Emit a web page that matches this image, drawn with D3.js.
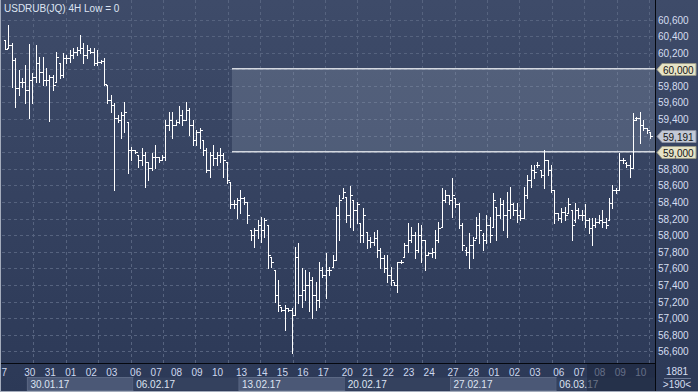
<!DOCTYPE html>
<html><head><meta charset="utf-8">
<script src="https://cdn.jsdelivr.net/npm/d3@7"></script>
<style>html,body{margin:0;padding:0;background:#2f3c5a;overflow:hidden}svg{display:block}</style>
</head><body><svg id="c" width="698" height="392"></svg>
<script>
const title = "USDRUB(JQ) 4H Low = 0";
// [open, high, low, close]
const bars = [
[60350,60350,60250,60250],[60260,60530,60260,60290],[60290,60320,59790,60110],[60110,60140,59550,59780],[59780,59990,59690,59850],
[59850,59900,59790,59850],[59850,60050,59590,59750],[59750,60300,59410,59870],[59870,59960,59590,59910],[59910,60290,59850,60080],
[60080,60150,59850,59970],[59970,60150,59810,59870],[59870,60020,59810,59870],[59870,59930,59380,59910],[59910,59930,59750,59810],
[59850,60210,59850,60150],[60080,60080,59900,59930],[59930,60200,59910,60140],[60140,60170,60080,60140],[60140,60230,60090,60170],
[60170,60260,60140,60210],[60210,60270,60170,60230],[60230,60410,60200,60260],[60260,60320,60080,60170],[60170,60290,60140,60230],
[60230,60260,60200,60210],[60210,60260,60050,60080],[60080,60230,60050,60090],[60090,60110,60080,60100],[60100,60140,59810,59820],
[59810,59810,59590,59630],[59630,59690,59490,59570],[59570,59590,58550,59410],[59410,59450,59370,59390],[59390,59490,59170,59450],
[59450,59610,59240,59490],[59370,59370,58750,59030],[59030,59060,58910,59030],[59030,59030,58990,59000],[58970,58970,58820,58910],
[58910,59050,58850,58970],[58970,59000,58580,58880],[58880,58880,58670,58810],[58810,58990,58790,58940],[58940,59090,58810,58940],
[58940,58940,58880,58910],[58910,58970,58910,58940],[58940,59390,58910,59330],
[59330,59490,59270,59390],[59390,59490,59170,59330],[59330,59390,59330,59370],[59370,59560,59350,59450],[59450,59510,59330,59390],
[59390,59610,59390,59510],[59510,59530,59210,59330],[59330,59390,59090,59150],[59150,59270,59090,59240],[59240,59290,59050,59270],
[59150,59150,58970,59030],[59030,59050,58760,58790],[58790,59000,58700,58970],[58970,59090,58850,58930],[58930,59000,58850,58970],
[58970,59050,58880,58970],[58970,58990,58700,58910],[58880,58880,58630,58670],[58640,58640,58330,58370],[58370,58430,58330,58370],
[58370,58450,58210,58430],[58430,58550,58270,58450],[58450,58460,58370,58400],[58400,58400,58150,58240],[58060,58060,57940,58000],
[58000,58090,57860,58060],[58060,58180,57970,58120],[58120,58220,57920,58060],[58060,58210,57980,58180],[58120,58120,57610,57760],
[57740,57740,57620,57680],[57580,57580,57200,57280],[57280,57460,57080,57160],[57140,57140,57080,57100],[57100,57160,56860,57120],
[57120,57120,57080,57100],[57100,57120,56580,57040],[57040,57860,57040,57740],[57740,57910,57180,57280],[57280,57610,57140,57340],
[57340,57580,57220,57400],[57400,57550,57080,57460],[57460,57490,57000,57280],[57280,57430,57100,57220],[57220,57680,57140,57580],
[57580,57620,57490,57520],[57520,57790,57240,57580],[57580,57620,57520,57580],
[57620,57760,57620,57700],[57700,58340,57700,58240],[58240,58490,57940,58430],[58450,58570,58450,58520],[58460,58460,58160,58240],
[58240,58590,58100,58490],[58430,58430,58060,58300],[58300,58400,58150,58370],[58150,58150,57920,58000],[58000,58330,57920,58240],
[58040,58040,57850,57940],[57940,57980,57860,57920],[57920,58040,57880,57970],[57970,58060,57740,57820],[57820,57850,57610,57730],
[57730,57760,57560,57610],[57610,57760,57430,57520],[57520,57620,57400,57460],[57430,57430,57400,57400],[57400,57680,57320,57680],
[57680,57700,57670,57680],[57740,57910,57740,57880],[57880,58150,57800,57940],[57940,58100,57920,58000],[58000,58040,57730,57820],
[57820,58150,57800,58000],[58000,58120,57680,57940],[57940,57940,57580,57760],[57760,57800,57760,57790],[57790,57850,57740,57800],
[57800,58060,57730,57940],[57940,58160,57920,58090],[58100,58570,58100,58430],[58430,58550,58400,58490],[58490,58490,58370,58430],
[58430,58690,58220,58490],[58450,58450,58340,58370],[58370,58390,58090,58120],[58120,58150,57820,57880],[57820,57860,57760,57800],
[57800,58030,57610,57880],[57880,57980,57730,57940],[57970,58220,57970,58120],[58120,58270,57910,58060],[58000,58030,57820,57940],
[57940,58240,57910,58120],
[58120,58220,57920,58000],[58100,58510,58100,58430],[58340,58340,57940,58240],[58240,58450,58210,58370],[58370,58430,58060,58240],
[58240,58520,57980,58300],[58300,58580,58210,58370],[58370,58390,58240,58300],[58300,58390,58160,58240],[58240,58300,58180,58210],
[58210,58580,58210,58490],[58490,58730,58450,58670],[58670,58850,58580,58790],[58790,58850,58690,58760],[58850,58880,58820,58850],
[58790,58790,58700,58730],[58730,59030,58570,58910],[58910,58910,58730,58790],[58790,58850,58520,58550],[58550,58550,58150,58270],
[58270,58270,58180,58210],[58210,58330,58160,58280],[58280,58340,58180,58240],[58270,58450,58270,58370],[58300,58300,57940,58120],
[58180,58390,58160,58300],[58300,58330,58210,58240],[58240,58300,58180,58240],[58240,58370,58100,58180],[58180,58210,58030,58090],
[58090,58210,57880,58120],[58120,58210,58100,58160],[58160,58240,58150,58180],[58180,58300,58100,58160],[58160,58210,58090,58120],
[58180,58450,58180,58390],[58390,58610,58330,58550],[58550,58570,58510,58550],[58550,58990,58550,58910],[58910,58930,58870,58910],
[58870,58880,58820,58850],[58850,58970,58700,58810],[58810,59470,58810,59390],[59410,59430,59390,59410],[59410,59490,59110,59330],
[59330,59390,59270,59290],[59290,59290,59230,59270],[59240,59240,59170,59191]
];
const yTickValues = [56600,56800,57000,57200,57400,57600,57800,58000,58200,58400,58600,58800,59000,59200,59400,59600,59800,60000,60200,60400,60600];
const dayLabels = ["7","30","31","01","02","03","06","07","08","09","10","13","14","15","16","17","20","21","22","23","24","27","28","01","02","03","06","07","08","09","10"];
const dayIndex  = [-0.5,7,13,19,25,31,38,44,50,56,62,69,75,81,87,93,100,106,112,118,124,131,137,143,149,155,162,168,174,180,186];
const weekLabels = ["30.01.17","06.02.17","13.02.17","20.02.17","27.02.17","06.03.17"];
const weekIndex  = [7,38,69,100,131,162];
const zoneLow = 59000, zoneHigh = 60000, zoneStartIndex = 66.5;
const lastPrice = 59191;
const shadedFromIndex = 171;
const cornerTop = "1881", cornerBottom = ">190<";

const W=698,H=392, plotL=2, plotR=655, plotB=363;
const FONT="'Liberation Sans', Arial, sans-serif";
const svg=d3.select('#c');
const defs=svg.append('defs');
const g=defs.append('linearGradient').attr('id','bg').attr('x1',0).attr('y1',0).attr('x2',0).attr('y2',1);
g.append('stop').attr('offset','0%').attr('stop-color','#3e4b69');
g.append('stop').attr('offset','100%').attr('stop-color','#2c3957');
defs.append('clipPath').attr('id','plotclip').append('rect').attr('x',plotL).attr('y',0).attr('width',plotR-plotL).attr('height',plotB);
defs.append('clipPath').attr('id','axclip').append('rect').attr('x',0).attr('y',plotB).attr('width',plotR).attr('height',H-plotB);

svg.append('rect').attr('width',W).attr('height',H).attr('fill','url(#bg)');

const x=d3.scaleLinear().domain([0,bars.length-1]).range([5,650]);
const y=d3.scaleLinear().domain([56600,60600]).range([351.3,19.5]);

// grid
const grid=svg.append('g').attr('clip-path','url(#plotclip)').attr('stroke','#56637f').attr('stroke-dasharray','3,3').attr('shape-rendering','crispEdges');
grid.selectAll('line.h').data(yTickValues).join('line').attr('class','h')
  .attr('x1',plotL).attr('x2',plotR).attr('y1',d=>Math.round(y(d))+0.5).attr('y2',d=>Math.round(y(d))+0.5);
grid.selectAll('line.v').data(d3.range(1,plotR,32.4)).join('line').attr('class','v')
  .attr('x1',d=>Math.round(d)+0.5).attr('x2',d=>Math.round(d)+0.5).attr('y1',0).attr('y2',plotB);

// zone
const zx=x(zoneStartIndex);
svg.append('rect').attr('x',zx).attr('y',y(zoneHigh)).attr('width',plotR-zx).attr('height',y(zoneLow)-y(zoneHigh))
  .attr('fill','rgba(170,180,200,0.22)');
[zoneHigh,zoneLow].forEach(v=>{
  const yy=Math.round(y(v));
  svg.append('line').attr('x1',zx).attr('x2',plotR).attr('y1',yy-0.5).attr('y2',yy-0.5).attr('stroke','#d4d8e0').attr('shape-rendering','crispEdges');
  svg.append('line').attr('x1',zx).attr('x2',plotR).attr('y1',yy+0.5).attr('y2',yy+0.5).attr('stroke','rgba(200,205,215,0.55)').attr('shape-rendering','crispEdges');
});

// title
svg.append('text').attr('x',4).attr('y',12).attr('fill','#dde4f2').attr('font-family',FONT).attr('font-size',10).text(title);

// bars
const bg=svg.append('g').attr('clip-path','url(#plotclip)').attr('stroke','#ffffff').attr('fill','none').attr('stroke-width',1).attr('shape-rendering','crispEdges');
bg.selectAll('path').data(bars).join('path').attr('d',(d,i)=>{
  const cx=Math.round(x(i))+0.5;
  const yo=Math.round(y(d[0]))+0.5, yh=Math.round(y(d[1])), yl=Math.round(y(d[2]))+1, yc=Math.round(y(d[3]))+0.5;
  return `M${cx},${yh}V${yl}M${cx-2},${yo}H${cx}M${cx},${yc}H${cx+2}`;
});

// separators
svg.append('line').attr('x1',plotR+0.5).attr('x2',plotR+0.5).attr('y1',0).attr('y2',H).attr('stroke','#05080f');
svg.append('line').attr('x1',0).attr('x2',plotR).attr('y1',plotB+0.5).attr('y2',plotB+0.5).attr('stroke','#05080f');

// tags
const tags=[{v:zoneHigh,fill:'#e6e3c6',stroke:'#9a9a88'},{v:zoneLow,fill:'#e6e3c6',stroke:'#9a9a88'},{v:lastPrice,fill:'#c3c9d6',stroke:'#8a90a0'}];

// y labels (those hidden behind a tag are skipped)
const visibleTicks=yTickValues.filter(v=>tags.every(t=>Math.abs(y(v)-y(t.v))>11));
svg.append('g').selectAll('text').data(visibleTicks).join('text')
  .attr('x',658).attr('y',d=>y(d)+4).attr('fill','#d6def0').attr('font-family',FONT).attr('font-size',10)
  .text(d=>d3.format(',')(d));

tags.forEach(t=>{
  const yc=Math.round(y(t.v))+0.5;
  svg.append('path').attr('d',`M657,${yc}L662,${yc-6}H696V${yc+6}H662Z`).attr('fill',t.fill).attr('stroke',t.stroke).attr('stroke-width',1);
  svg.append('text').attr('x',663).attr('y',yc+4).attr('fill','#141414').attr('font-family',FONT).attr('font-size',10).text(d3.format(',')(t.v));
});

// bottom axis
const ax=svg.append('g').attr('clip-path','url(#axclip)');
weekIndex.forEach((wi,k)=>{
  const x0=x(wi)-1.5, x1=k<weekIndex.length-1?x(weekIndex[k+1])-1.5:plotR;
  ax.append('rect').attr('x',x0).attr('y',377.5).attr('width',x1-x0).attr('height',13)
    .attr('fill',k%2===0?'#4b5876':'#34415e').attr('stroke',k%2===0?'#5b6884':'none');
  ax.append('text').attr('x',x0+3).attr('y',388).attr('fill','#dde4f2').attr('font-family',FONT).attr('font-size',10).text(weekLabels[k]);
});
ax.selectAll('text.day').data(dayLabels).join('text').attr('class','day')
  .attr('x',(d,i)=>x(dayIndex[i])+1).attr('y',376).attr('text-anchor','middle')
  .attr('fill','#cdd8ee').attr('font-family',FONT).attr('font-size',10).text(d=>d);
const sx=x(shadedFromIndex)-1.5;
svg.append('rect').attr('x',sx).attr('y',plotB+1).attr('width',plotR-sx).attr('height',H-plotB-2).attr('fill','rgba(28,38,62,0.6)');

// corner
svg.append('text').attr('x',677).attr('y',375).attr('text-anchor','middle').attr('fill','#d6def0').attr('font-family',FONT).attr('font-size',10).text(cornerTop);
svg.append('line').attr('x1',664).attr('x2',691).attr('y1',378.5).attr('y2',378.5).attr('stroke','#6d7a96');
svg.append('text').attr('x',677).attr('y',388).attr('text-anchor','middle').attr('fill','#d6def0').attr('font-family',FONT).attr('font-size',10).text(cornerBottom);

// outer frame
svg.append('line').attr('x1',0.5).attr('x2',0.5).attr('y1',0).attr('y2',H).attr('stroke','#a4acbc');
svg.append('line').attr('x1',0).attr('x2',W).attr('y1',H-0.5).attr('y2',H-0.5).attr('stroke','#a4acbc');
</script></body></html>
